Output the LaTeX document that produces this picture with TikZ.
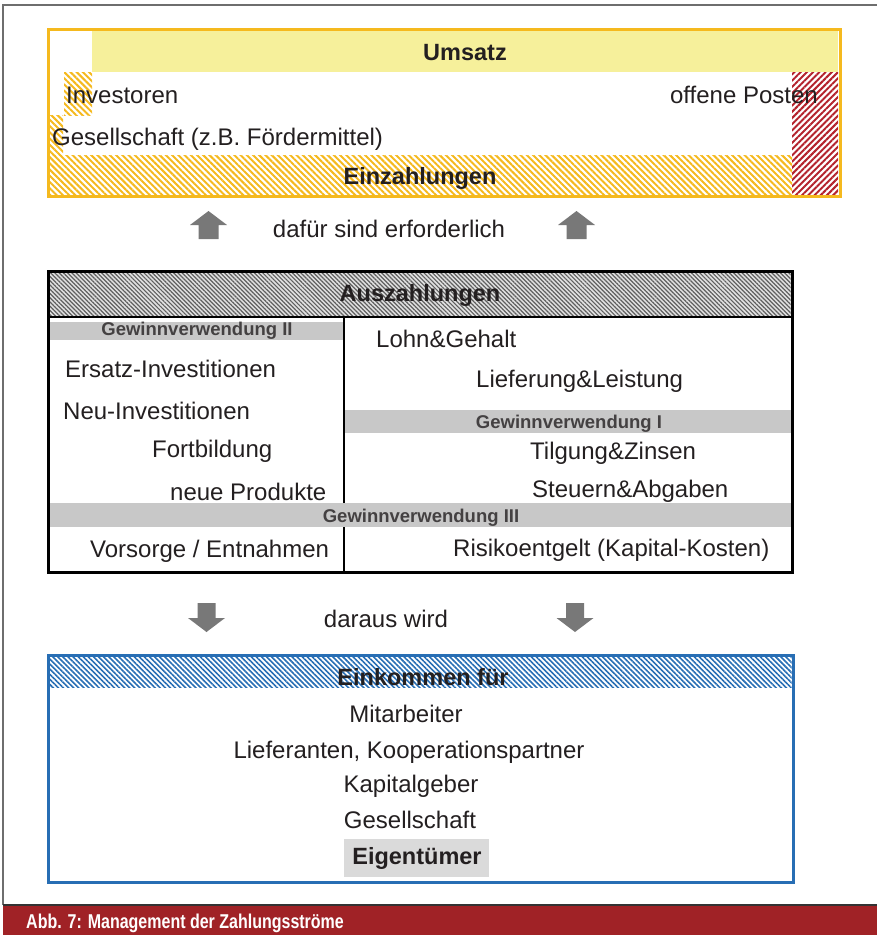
\documentclass[tikz,border=0pt]{standalone}
\usepackage{fontspec}
\setmainfont{Liberation Sans}
\newfontfamily\capfont[FakeStretch=0.8]{Liberation Sans}
\usetikzlibrary{patterns.meta}

\definecolor{ink}{RGB}{35,31,32}
\definecolor{sunorange}{RGB}{245,185,30}
\definecolor{paleyellow}{RGB}{246,240,155}
\definecolor{postred}{RGB}{180,35,45}
\definecolor{bandgrey}{RGB}{200,200,200}
\definecolor{softgrey}{RGB}{218,218,218}
\definecolor{hatchgrey}{RGB}{95,95,95}
\definecolor{hatchbg}{RGB}{225,225,225}
\definecolor{incomeblue}{RGB}{40,110,180}
\definecolor{arrowgrey}{RGB}{120,120,120}
\definecolor{framegrey}{RGB}{110,110,110}
\definecolor{capred}{RGB}{160,34,38}

\tikzset{
  txt/.style={inner sep=0, text=ink, font=\fontsize{24}{28}\selectfont},
  headtxt/.style={inner sep=0, text=ink, font=\fontsize{23.5}{28}\selectfont\bfseries},
  subtxt/.style={inner sep=0, text=ink!85, font=\fontsize{18.5}{22}\selectfont\bfseries},
  frame/.style={rectangle, draw, line width=3pt, outer sep=0, inner sep=0},
  orangehatch/.style={pattern={Lines[angle=-45,distance=4.4pt,line width=2pt]}, pattern color=sunorange},
  redhatch/.style={pattern={Lines[angle=45,distance=4.4pt,line width=2pt]}, pattern color=postred},
  greyhatch/.style={preaction={fill=hatchbg}, pattern={Lines[angle=-45,distance=3pt,line width=1.2pt]}, pattern color=hatchgrey},
  bluehatch/.style={pattern={Lines[angle=-45,distance=3.6pt,line width=1.6pt]}, pattern color=incomeblue},
  pics/uparr/.style={code={
    \fill[arrowgrey] (-18.5,0) -- (0,-14) -- (18.5,0) -- (10,0) -- (10,14) -- (-10,14) -- (-10,0) -- cycle;}},
  pics/downarr/.style={code={
    \fill[arrowgrey] (-9,-15) -- (9,-15) -- (9,0) -- (18.5,0) -- (0,14) -- (-18.5,0) -- (-9,0) -- cycle;}},
}

\begin{document}
\begin{tikzpicture}[x=1pt,y=-1pt]
\useasboundingbox (0,0) rectangle (877,935);

% page frame and caption bar
\draw[framegrey, line width=2pt] (3,905) -- (3,5) -- (877,5);
\fill[capred] (3,905) rectangle (877,935);
\draw[black!80, line width=1.5pt] (3,905) -- (877,905);
\node[anchor=base west, inner sep=0, text=white, font=\capfont\bfseries\fontsize{20}{22}\selectfont] (caption) at (26,928) {Abb. 7: Management der Zahlungsströme};

% ---- receipts box ----
\fill[paleyellow] (92,31) rectangle (838,72);
\fill[orangehatch] (64,72) rectangle (92,115);
\fill[orangehatch] (50,115) rectangle (63,155);
\fill[orangehatch] (50,155) rectangle (792,195);
\fill[redhatch] (792,72) rectangle (838,195);
\node[frame, draw=sunorange, minimum width=792pt, minimum height=167pt] (receipts) at (444,113) {};
\node[headtxt, anchor=base] (umsatz) at (465,60) {Umsatz};
\node[txt, anchor=base west] (investoren) at (66,103) {Investoren};
\node[txt, anchor=base east] (posten) at (818,103) {offene Posten};
\node[txt, anchor=base west] (gesell) at (52,145) {Gesellschaft (z.B. Fördermittel)};
\node[headtxt, anchor=base] (einzahlungen) at (420,184) {Einzahlungen};

% ---- arrows up ----
\pic at (208.5,225) {uparr};
\pic at (576.5,225) {uparr};
\node[txt, anchor=base] (dafuer) at (389,237) {dafür sind erforderlich};

% ---- payments box ----
\fill[greyhatch] (49.5,272.5) rectangle (790.5,317);
\draw[black, line width=1.5pt] (49.5,317) -- (790.5,317);
\draw[black, line width=2pt] (344,317) -- (344,570.5);
\fill[bandgrey] (49.5,322) rectangle (343,340);
\fill[bandgrey] (345,410) rectangle (790.5,433);
\fill[bandgrey] (49.5,503) rectangle (790.5,527);
\node[frame, draw=black, minimum width=744pt, minimum height=301pt] (payments) at (420,421.5) {};
\node[headtxt, anchor=base] (auszahlungen) at (420,301) {Auszahlungen};
\node[subtxt, anchor=base] (gv2) at (197,335) {Gewinnverwendung II};
\node[subtxt, anchor=base] (gv1) at (569,428) {Gewinnverwendung I};
\node[subtxt, anchor=base] (gv3) at (421,522) {Gewinnverwendung III};
\node[txt, anchor=base west] (ersatz) at (65,377) {Ersatz-Investitionen};
\node[txt, anchor=base west] (neu) at (63,419) {Neu-Investitionen};
\node[txt, anchor=base west] (fortb) at (152,457) {Fortbildung};
\node[txt, anchor=base west] (produkte) at (170,500) {neue Produkte};
\node[txt, anchor=base west] (vorsorge) at (90,557) {Vorsorge / Entnahmen};
\node[txt, anchor=base west] (lohn) at (376,347) {Lohn\&Gehalt};
\node[txt, anchor=base west] (liefer) at (476,387) {Lieferung\&Leistung};
\node[txt, anchor=base west] (tilgung) at (530,459) {Tilgung\&Zinsen};
\node[txt, anchor=base west] (steuern) at (532,497) {Steuern\&Abgaben};
\node[txt, anchor=base west] (risiko) at (453,556) {Risikoentgelt (Kapital-Kosten)};

% ---- arrows down ----
\pic at (206.5,618) {downarr};
\pic at (575,618) {downarr};
\node[txt, anchor=base] (daraus) at (386,627) {daraus wird};

% ---- income box ----
\fill[bluehatch] (49.5,656.5) rectangle (791.5,687);
\fill[softgrey] (344,839) rectangle (489,877);
\node[frame, draw=incomeblue, minimum width=745pt, minimum height=227pt] (income) at (420.5,768.5) {};
\node[headtxt, anchor=base] (einkommen) at (423,685) {Einkommen für};
\node[txt, anchor=base] (mitarb) at (406,722) {Mitarbeiter};
\node[txt, anchor=base] (lieferanten) at (409,758) {Lieferanten, Kooperationspartner};
\node[txt, anchor=base] (kapital) at (411,792) {Kapitalgeber};
\node[txt, anchor=base] (gesell2) at (410,828) {Gesellschaft};
\node[headtxt, anchor=base] (eigen) at (417,864) {Eigentümer};
\end{tikzpicture}
\end{document}
